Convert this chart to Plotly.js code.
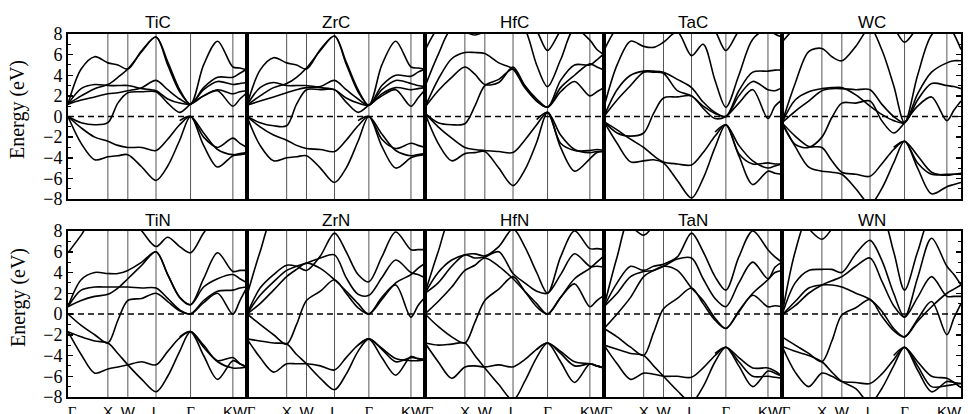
<!DOCTYPE html>
<html><head><meta charset="utf-8">
<script src="https://cdn.plot.ly/plotly-3.0.1.min.js"></script>
<style>html,body{margin:0;padding:0;background:#fff}#plot{width:968px;height:414px}</style>
</head><body><div id="plot"></div>
<script>
const _ = null;
// k-path Γ-X-W-L-Γ-K-W (units of 2π/a)
const K = [0, 0.33, 0.67, 1.0, 1.25, 1.5, 1.85, 2.207, 2.5, 2.8, 3.073, 3.4, 3.75, 4.134, 4.31, 4.488];
const SYM_K = [1.0, 1.5, 2.207, 3.073, 4.134];
const XLAB_K = [0.1, 1.0, 1.5, 2.207, 3.073, 4.19];
const XLAB = ['Γ', 'X', 'W', 'L', 'Γ', 'KW'];
const YTICKS = [-8, -6, -4, -2, 0, 2, 4, 6, 8];
const materials = ['TiC', 'ZrC', 'HfC', 'TaC', 'WC', 'TiN', 'ZrN', 'HfN', 'TaN', 'WN'];

const TiC = [
  [0,-2.6,-4.2,-3.9,-3.8,-3.7,-4.9,-6.2,-4.8,-2.3,0,-2.8,-4.9,-3.8,-3.7,-3.6],
  [0,-1.1,-2.0,-2.4,-2.8,-3.0,-3.0,-3.3,-2.2,-0.8,0,-2.0,-3.0,-2.1,-2.6,-3.0],
  [_,_,_,_,_,_,_,_,_,-0.4,0,-1.6,-3.2,-3.7,-3.6,-3.5],
  [0,-0.6,-0.8,-0.6,1.3,2.3,2.4,2.4,1.3,0.4,1.2,2.0,2.5,1.0,1.7,2.3],
  [1.2,1.6,1.9,2.2,2.3,2.5,2.8,3.5,2.6,1.7,1.2,2.6,3.4,3.1,3.2,3.3],
  [1.2,2.7,3.1,3.0,3.0,3.0,2.7,2.5,1.7,1.3,1.2,2.0,2.6,2.2,2.4,2.5],
  [1.2,4.6,5.8,5.2,5.0,4.6,6.4,7.7,5.0,2.4,1.2,5.0,7.3,4.8,4.7,4.5],
  [1.2,2.0,2.7,3.1,3.8,4.6,6.3,7.7,5.3,2.6,1.2,2.8,3.8,3.8,4.2,4.6]
];
const ZrC = [
  [0,-2.8,-4.3,-4.0,-3.9,-3.8,-5.0,-6.4,-5.0,-2.4,0,-2.9,-5.0,-4.0,-3.8,-3.7],
  [0,-1.0,-1.8,-2.3,-2.8,-3.1,-3.2,-3.4,-2.3,-0.9,0,-2.2,-3.1,-2.6,-2.8,-3.0],
  [_,_,_,_,_,_,_,_,_,-0.4,0,-1.7,-3.3,-3.8,-3.7,-3.6],
  [0,-0.6,-0.9,-0.9,1.2,2.6,2.6,2.6,1.4,0.4,1.1,2.0,2.6,1.0,1.8,2.6],
  [1.1,1.5,1.9,2.3,2.6,2.8,2.9,3.5,2.6,1.7,1.1,2.6,3.5,3.2,3.0,2.9],
  [1.1,2.8,3.3,3.0,3.0,3.0,2.8,2.6,1.8,1.3,1.1,2.2,2.8,2.6,2.7,2.8],
  [1.1,4.5,5.7,5.2,5.0,4.6,6.5,7.8,5.1,2.4,1.1,5.0,7.3,4.8,4.7,4.6],
  [1.1,2.0,2.8,3.2,3.8,4.7,6.4,7.8,5.3,2.6,1.1,3.0,4.0,3.9,4.3,4.6]
];
const HfC = [
  [0.3,-2.6,-4.3,-3.6,-3.5,-3.4,-5.0,-6.7,-5.2,-2.5,0.4,-3.0,-5.3,-4.1,-3.5,-3.4],
  [0.3,-1.0,-2.1,-3.0,-3.2,-3.3,-3.4,-3.5,-2.3,-0.8,0.4,-2.6,-3.3,-3.3,-3.2,-3.3],
  [_,_,_,_,_,_,_,_,_,-0.3,0.4,-1.8,-3.2,-3.5,-3.4,-3.4],
  [0.3,-0.6,-0.8,-0.7,1.0,3.0,3.6,4.6,3.0,1.5,0.9,2.4,3.4,2.0,2.4,2.8],
  [0.9,2.5,3.8,4.8,4.1,3.1,3.3,4.8,3.0,1.7,0.9,3.5,5.0,5.0,5.5,6.1],
  [0.9,3.6,5.6,6.2,6.2,6.1,5.2,4.6,2.8,1.5,0.9,2.8,4.0,5.1,4.8,4.5],
  [2.9,6.0,8.5,8.2,7.9,8.3,9.5,9.5,8.5,5.0,2.9,5.5,8.5,7.4,6.5,6.0],
  [6.4,8.6,9.5,9.5,9.5,9.5,9.5,9.5,9.5,8.3,6.4,8.3,9.5,9.5,9.5,9.5]
];
const TaC = [
  [-0.5,-2.6,-4.4,-4.3,-4.2,-4.5,-6.2,-7.9,-6.0,-3.0,-0.8,-3.8,-6.6,-5.3,-5.5,-5.6],
  [-0.5,-1.3,-2.2,-3.0,-3.8,-4.4,-4.6,-4.7,-3.5,-1.9,-0.8,-3.6,-4.6,-4.5,-4.6,-4.6],
  [_,_,_,_,_,_,_,_,_,-1.5,-0.8,-2.8,-4.3,-5.0,-4.8,-4.6],
  [-0.5,-1.6,-1.9,-1.6,0.3,1.8,1.9,2.0,0.8,-0.2,0,1.3,2.6,-0.2,1.0,1.6],
  [0,1.6,3.0,4.3,4.3,4.2,2.5,2.0,1.0,0.3,0,2.5,4.3,4.4,4.5,4.5],
  [0,2.6,4.0,4.4,4.4,4.3,3.6,2.8,1.4,0.4,0,2.0,3.4,2.6,2.5,2.8],
  [0.9,5.0,7.3,6.8,6.7,7.2,8.2,5.9,7.0,3.5,0.9,4.0,7.5,8.5,8.0,7.7],
  [6.4,8.6,9.5,9.5,9.5,9.5,9.5,9.5,9.5,8.3,6.4,8.3,9.5,9.5,9.5,9.5]
];
const WC = [
  [-0.6,-2.9,-4.9,-5.3,-5.4,-5.6,-7.0,-8.5,-7.0,-4.5,-2.4,-5.0,-7.5,-6.8,-6.6,-6.4],
  [-0.6,-1.9,-2.9,-3.0,-4.3,-5.4,-5.6,-5.8,-4.6,-3.2,-2.4,-4.5,-5.6,-5.6,-5.6,-5.6],
  [_,_,_,_,_,_,_,_,_,-3.0,-2.4,-3.8,-5.4,-5.7,-5.6,-5.5],
  [-0.6,-2.7,-3.0,-2.0,-0.1,1.3,1.3,1.5,-0.4,-1.6,-0.6,1.0,1.9,-0.4,0.6,1.5],
  [-0.6,0.5,1.5,2.5,2.7,2.7,2.6,2.6,1.2,0.0,-0.6,1.6,3.2,3.0,2.9,2.7],
  [-0.6,1.6,2.4,2.7,2.8,2.8,2.1,1.0,0.2,-0.4,-0.6,2.2,4.3,5.2,5.4,5.4],
  [-0.6,3.2,6.3,6.6,5.8,5.4,6.8,8.6,6.5,3.0,-0.6,4.0,7.9,9.0,8.0,6.5],
  [7.2,8.6,9.5,9.5,9.5,9.5,9.5,9.5,9.5,8.6,7.2,8.6,9.5,9.5,9.5,9.5]
];
const TiN = [
  [0,-1.1,-2.0,-2.8,-0.6,1.3,1.5,2.0,1.2,0.3,0,1.1,2.0,0.0,1.3,2.6],
  [-1.7,-2.2,-2.6,-2.8,-3.8,-4.9,-6.3,-7.5,-6.0,-3.6,-1.7,-3.2,-4.6,-5.2,-5.2,-5.1],
  [-1.7,-3.9,-5.7,-5.3,-5.1,-4.9,-4.6,-4.9,-3.6,-2.3,-1.7,-4.0,-6.3,-4.5,-4.8,-5.1],
  [_,_,_,_,_,_,_,_,_,-2.2,-1.7,-3.0,-4.5,-4.2,-4.8,-5.1],
  [0.7,2.3,2.6,2.6,2.6,2.6,2.5,2.5,1.5,0.4,0,1.3,2.2,2.3,2.5,2.6],
  [0.7,1.3,1.7,1.9,2.5,3.4,4.7,6.0,3.8,1.6,0.9,3.4,5.9,4.1,4.2,4.2],
  [0.7,3.3,4.0,3.9,3.9,4.2,5.0,6.0,3.8,1.6,0.9,2.6,3.4,3.8,3.4,3.0],
  [5.9,7.6,9.5,9.5,9.5,9.5,8.0,6.5,7.4,6.5,5.9,7.8,9.5,9.5,9.5,9.5]
];
const ZrN = [
  [0,-1.0,-2.0,-2.9,-1.0,1.3,2.2,3.3,2.0,0.6,0,1.6,2.8,-0.3,0.8,1.6],
  [-2.4,-2.6,-2.8,-2.9,-3.9,-4.8,-6.2,-7.3,-5.8,-3.6,-2.4,-3.4,-4.6,-4.2,-4.3,-4.4],
  [-2.4,-4.2,-5.6,-4.8,-4.8,-4.8,-5.0,-5.4,-4.2,-3.0,-2.4,-4.2,-5.9,-4.1,-4.3,-4.4],
  [_,_,_,_,_,_,_,_,_,-3.0,-2.4,-3.3,-4.3,-4.5,-4.5,-4.4],
  [0,1.0,2.3,3.6,4.3,4.9,4.4,3.3,2.2,1.0,0,1.4,3.0,3.8,4.4,4.9],
  [0,1.8,3.1,4.2,4.6,4.9,5.4,5.7,3.5,1.9,1.8,3.5,5.2,4.0,3.8,3.5],
  [0,2.5,3.8,4.7,4.6,4.2,5.6,7.8,6.0,3.8,3.1,5.5,7.9,6.2,6.2,6.2],
  [1.8,6.0,9.5,9.5,9.5,9.5,9.5,9.5,9.5,9.5,9.5,9.5,9.5,9.5,9.5,9.5]
];
const HfN = [
  [0,-1.2,-2.2,-2.8,-0.8,1.3,2.4,3.6,2.2,0.7,0,1.6,2.9,0.7,1.3,1.8],
  [-2.8,-3.0,-2.9,-2.8,-4.0,-5.2,-6.8,-8.3,-6.5,-4.2,-2.8,-3.8,-5.0,-4.8,-5.0,-5.2],
  [-2.8,-4.6,-6.2,-5.1,-5.0,-5.1,-4.9,-5.1,-4.4,-3.4,-2.8,-4.6,-6.6,-4.8,-5.0,-5.2],
  [_,_,_,_,_,_,_,_,_,-3.4,-2.8,-3.6,-4.6,-4.8,-5.0,-5.2],
  [0,1.2,2.6,4.2,4.7,5.4,4.6,3.4,2.2,1.0,0,1.6,3.4,4.4,5.0,5.6],
  [2.0,3.0,4.6,5.7,5.4,5.5,6.0,3.9,3.0,2.2,2.0,3.8,5.8,4.6,4.6,4.5],
  [2.0,4.0,5.2,5.7,5.8,5.6,6.5,8.2,6.5,4.0,2.0,5.5,8.0,6.3,6.3,6.2],
  [2.0,6.0,9.5,9.5,9.5,9.5,9.5,9.5,9.5,9.5,9.5,9.5,9.5,9.5,9.5,9.5]
];
const TaN = [
  [-1.4,-2.2,-3.2,-4.0,-1.8,0.5,1.5,2.5,1.0,-0.6,-1.4,0.2,1.8,0.7,0.8,0.7],
  [-3.0,-3.4,-3.8,-4.0,-5.0,-6.0,-7.4,-8.5,-7.0,-4.6,-3.2,-4.6,-6.0,-6.0,-6.1,-6.2],
  [-3.0,-4.8,-6.3,-5.7,-5.8,-6.0,-6.0,-6.1,-5.2,-4.0,-3.2,-5.0,-7.0,-5.5,-5.7,-6.0],
  [_,_,_,_,_,_,_,_,_,-3.8,-3.2,-4.2,-5.2,-5.2,-5.5,-6.0],
  [-1.4,0.0,1.6,3.6,4.2,4.6,4.2,2.5,1.3,-0.4,-1.4,0.3,2.0,3.3,4.0,4.2],
  [0.7,2.0,3.6,4.1,4.2,4.6,5.3,5.4,3.4,1.5,0.7,3.0,5.0,3.4,4.5,5.0],
  [0.7,3.0,4.6,4.2,4.6,4.8,5.5,7.8,6.0,3.6,2.3,5.5,8.0,6.2,5.5,5.0],
  [0.7,5.5,9.5,9.5,9.5,9.5,9.5,9.5,9.5,9.5,9.5,9.5,9.5,9.5,9.5,9.5],
  [9.5,9.5,8.5,7.6,8.5,9.5,9.5,9.5,9.5,9.5,9.5,9.5,9.5,9.5,9.5,9.5]
];
const WN = [
  [-2.2,-3.0,-3.8,-4.6,-2.6,-0.1,0.6,1.4,-0.2,-1.6,-2.2,-0.5,1.2,-2.0,-0.4,1.0],
  [-3.1,-3.6,-4.0,-4.6,-5.6,-6.5,-7.2,-8.6,-7.2,-5.0,-3.2,-5.0,-7.0,-6.9,-6.8,-6.7],
  [-3.1,-5.6,-7.0,-5.7,-6.0,-6.5,-6.6,-6.7,-5.8,-4.4,-3.2,-5.4,-7.5,-6.5,-6.6,-6.7],
  [_,_,_,_,_,_,_,_,_,-4.0,-3.2,-4.6,-6.0,-6.2,-6.6,-7.1],
  [-0.1,1.2,2.5,2.8,2.8,2.6,2.0,1.4,0.3,-1.4,-2.2,-0.7,0.7,2.0,2.4,2.8],
  [-0.1,0.8,2.0,2.8,3.2,3.6,4.6,5.4,3.2,0.8,-0.3,1.6,3.6,1.7,1.7,1.7],
  [-0.1,3.0,4.2,4.3,4.3,4.0,5.8,7.1,5.2,2.0,-0.3,3.5,7.3,4.6,3.8,2.8],
  [-0.1,6.0,9.5,9.5,9.5,9.5,9.5,9.5,9.5,6.0,2.3,6.0,9.5,9.5,9.5,9.5],
  [9.5,9.5,8.2,7.2,8.2,9.5,9.5,9.5,9.5,9.5,9.5,9.5,9.5,9.5,9.5,9.5]
];
const BANDS = [TiC, ZrC, HfC, TaC, WC, TiN, ZrN, HfN, TaN, WN];

// geometry (pixels)
const W = 968, H = 414;
const colEdges = [68, 247, 425, 604, 782, 961];
const rowTB = [[34, 199], [231, 397]];
const titleY = [22, 221];
const ylabY = [110, 298];
const kmax = K[K.length - 1];

const traces = [], shapes = [], annotations = [];
const layout = {
  width: W, height: H, margin: {l: 0, r: 0, t: 0, b: 0},
  paper_bgcolor: '#fff', plot_bgcolor: '#fff', showlegend: false
};
const serif = 'Liberation Serif, Times New Roman, serif';
const sans = 'Liberation Sans, Arial, sans-serif';

materials.forEach((name, i) => {
  const row = Math.floor(i / 5), col = i % 5, n = i + 1;
  const xs = n === 1 ? '' : String(n);
  const xd = [colEdges[col] / W, colEdges[col + 1] / W];
  const yd = [(H - rowTB[row][1]) / H, (H - rowTB[row][0]) / H];
  const xa = {
    domain: xd, range: [0, kmax], anchor: 'y' + xs, showgrid: false, zeroline: false,
    showline: true, mirror: true, linewidth: 2, linecolor: '#000', ticks: '',
    fixedrange: true
  };
  if (row === 1) {
    xa.showticklabels = true;
    xa.tickmode = 'array';
    xa.tickvals = XLAB_K;
    xa.ticktext = XLAB.map(t => t === 'Γ' ? '<span style="font-family:Liberation Serif">Γ</span>' : t);
    xa.tickfont = {family: sans, size: 15, color: '#000'};
  } else {
    xa.showticklabels = false;
  }
  const ya = {
    domain: yd, range: [-8, 8], anchor: 'x' + xs, showgrid: false, zeroline: false,
    showline: true, mirror: true, linewidth: 2, linecolor: '#000', fixedrange: true,
    showticklabels: false, ticks: ''
  };
  if (col === 0 || col === 4) {
    Object.assign(ya, {
      ticks: 'inside', ticklen: 5, tickwidth: 1.5, tickcolor: '#000',
      tickmode: 'array', tickvals: YTICKS,
      minor: {ticks: 'inside', ticklen: 3, tickwidth: 1, tickcolor: '#000', dtick: 1, tick0: 0}
    });
    if (col === 0) {
      ya.showticklabels = true;
      ya.tickfont = {family: serif, size: 18, color: '#000'};
    } else {
      ya.side = 'right';
    }
  }
  layout['xaxis' + xs] = xa;
  layout['yaxis' + xs] = ya;

  // symmetry lines
  SYM_K.forEach(k => shapes.push({
    type: 'line', xref: 'x' + xs, yref: 'y' + xs + ' domain', x0: k, x1: k, y0: 0, y1: 1,
    line: {color: '#555', width: 1}, layer: 'below'
  }));
  // Fermi level
  traces.push({
    x: [0, kmax], y: [0, 0], xaxis: 'x' + xs, yaxis: 'y' + xs, mode: 'lines',
    line: {color: '#000', width: 1.5, dash: '6px,4px'}, hoverinfo: 'skip'
  });
  // bands
  BANDS[i].forEach(b => traces.push({
    x: K, y: b, xaxis: 'x' + xs, yaxis: 'y' + xs, mode: 'lines',
    line: {color: '#000', width: 1.6, shape: 'spline', smoothing: 0.9}, hoverinfo: 'skip'
  }));
  // title
  annotations.push({
    text: name, xref: 'paper', yref: 'paper', x: (xd[0] + xd[1]) / 2,
    y: (H - titleY[row]) / H, xanchor: 'center', yanchor: 'middle',
    showarrow: false, font: {family: sans, size: 17, color: '#000'}
  });
});
// y axis titles
ylabY.forEach(yc => annotations.push({
  text: 'Energy (eV)', xref: 'paper', yref: 'paper', x: 18 / W, y: (H - yc) / H,
  xanchor: 'center', yanchor: 'middle', textangle: -90, showarrow: false,
  font: {family: serif, size: 20, color: '#000'}
}));
layout.shapes = shapes;
layout.annotations = annotations;
Plotly.newPlot('plot', traces, layout, {staticPlot: true, displayModeBar: false});
</script></body></html>
